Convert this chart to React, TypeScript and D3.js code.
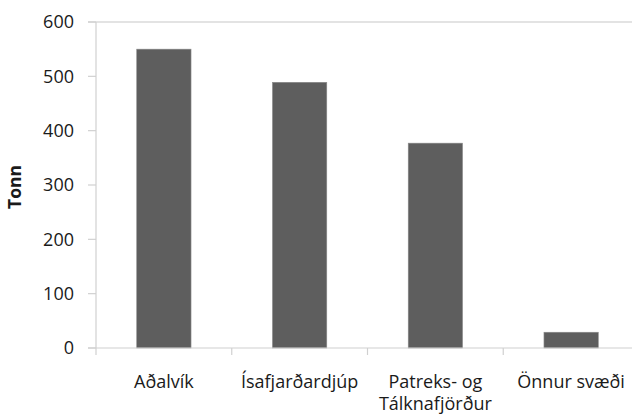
import React, { useEffect, useRef } from "react";
import * as d3 from "d3";

const categories: string[][] = [
  ["Aðalvík"],
  ["Ísafjarðardjúp"],
  ["Patreks- og", "Tálknafjörður"],
  ["Önnur svæði"],
];
const values: number[] = [550, 489, 377, 29];
const yTicks: number[] = [0, 100, 200, 300, 400, 500, 600];
const yTitle = "Tonn";

const W = 632;
const H = 417;
const FONT = "'Open Sans', sans-serif";

export default function App() {
  const ref = useRef<SVGSVGElement>(null);
  useEffect(() => {
    const svg = d3.select(ref.current);
    svg.selectAll("*").remove();
    const x0 = 96, x1 = 639, yTop = 22, yBot = 348;
    const keys = categories.map((_, i) => String(i));
    const x = d3.scaleBand<string>().domain(keys).range([x0, x1]).paddingInner(0.6).paddingOuter(0.3);
    const y = d3.scaleLinear().domain([0, 600]).range([yBot, yTop]);
    const axisColor = "#d0d0d0";

    // top gridline
    svg.append("line").attr("x1", x0 - 8).attr("x2", W).attr("y1", y(600)).attr("y2", y(600))
      .attr("stroke", "#c8c8c8").attr("stroke-width", 1.2);

    // bars
    svg.append("g").selectAll("rect").data(values).join("rect")
      .attr("x", (_, i) => x(String(i))!)
      .attr("width", x.bandwidth())
      .attr("y", (d) => y(d))
      .attr("height", (d) => yBot - y(d))
      .attr("fill", "#5e5e5e")
      .attr("stroke", "#8a8a8a")
      .attr("stroke-width", 0.6);

    // y axis
    svg.append("line").attr("x1", x0).attr("x2", x0).attr("y1", yTop).attr("y2", yBot)
      .attr("stroke", axisColor).attr("stroke-width", 1.2);
    const yg = svg.append("g");
    yTicks.forEach((t) => {
      yg.append("line").attr("x1", x0 - 8).attr("x2", x0).attr("y1", y(t)).attr("y2", y(t))
        .attr("stroke", axisColor).attr("stroke-width", 1.2);
      yg.append("text").attr("x", 74).attr("y", y(t)).attr("dy", "0.36em")
        .attr("text-anchor", "end").attr("font-family", FONT).attr("font-size", 18)
        .attr("fill", "#1a1a1a").text(String(t));
    });

    // x axis
    svg.append("line").attr("x1", x0 - 8).attr("x2", W).attr("y1", yBot).attr("y2", yBot)
      .attr("stroke", axisColor).attr("stroke-width", 1.2);
    const step = x.step();
    for (let i = 0; i <= categories.length; i++) {
      const tx = x0 + i * step;
      svg.append("line").attr("x1", tx).attr("x2", tx).attr("y1", yBot).attr("y2", yBot + 7)
        .attr("stroke", axisColor).attr("stroke-width", 1.2);
    }
    categories.forEach((lines, i) => {
      const cx = x(String(i))! + x.bandwidth() / 2;
      const t = svg.append("text").attr("text-anchor", "middle").attr("font-family", FONT)
        .attr("font-size", 18).attr("fill", "#1a1a1a");
      lines.forEach((ln, j) => {
        t.append("tspan").attr("x", cx).attr("y", 388 + j * 22).text(ln);
      });
    });

    // y title
    svg.append("text").attr("transform", `translate(21,187) rotate(-90)`)
      .attr("text-anchor", "middle").attr("font-family", FONT).attr("font-size", 17.5)
      .attr("font-weight", "bold").attr("fill", "#1a1a1a").text(yTitle);
  }, []);
  return <svg ref={ref} width={W} height={H} style={{ position: "absolute", left: 0, top: 0, background: "#fff" }} />;
}
